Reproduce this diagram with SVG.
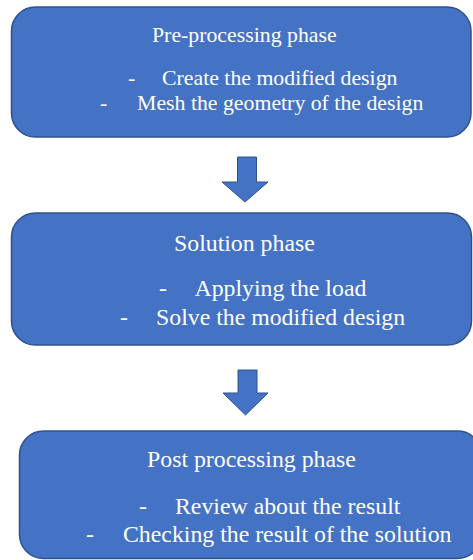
<svg xmlns="http://www.w3.org/2000/svg" width="473" height="560" viewBox="0 0 473 560">
<style>
.box{fill:#4472C4;stroke:#2F528F;stroke-width:1.5}
.arr{fill:#4472C4;stroke:#2F528F;stroke-width:1}
text{font-family:"Liberation Serif","Times New Roman",serif;font-size:21.8px;fill:#FFFFFF}
.lg{font-size:23.8px}
</style>
<rect width="473" height="560" fill="#FFFFFF"/>
<g id="pre">
<rect class="box" x="11.5" y="7" width="459.5" height="130" rx="24"/>
<text x="152" y="42">Pre-processing phase</text>
<text x="128" y="85">-</text>
<text x="162" y="85">Create the modified design</text>
<text x="100" y="109.5">-</text>
<text x="137" y="109.5">Mesh the geometry of the design</text>
</g>
<g id="solution">
<rect class="box" x="11.5" y="213" width="460" height="132" rx="24"/>
<text class="lg" x="174" y="251">Solution phase</text>
<text class="lg" x="159" y="296">-</text>
<text class="lg" x="194.5" y="296">Applying the load</text>
<text class="lg" x="120" y="324.5">-</text>
<text class="lg" x="156" y="324.5">Solve the modified design</text>
</g>
<g id="post">
<rect class="box" x="19.5" y="431" width="462" height="127.5" rx="24"/>
<text class="lg" x="147" y="467">Post processing phase</text>
<text class="lg" x="139" y="514">-</text>
<text class="lg" x="175" y="514">Review about the result</text>
<text class="lg" x="86" y="542">-</text>
<text class="lg" x="123" y="542">Checking the result of the solution</text>
</g>
<g id="connectors">
<path class="arr" d="M237.5 157 H256.5 V182 H268 L245 202 L222 182 H237.5 Z"/>
<path class="arr" d="M238 370 H257 V393 H268 L245.5 415 L223 393 H238 Z"/>
</g>
</svg>
